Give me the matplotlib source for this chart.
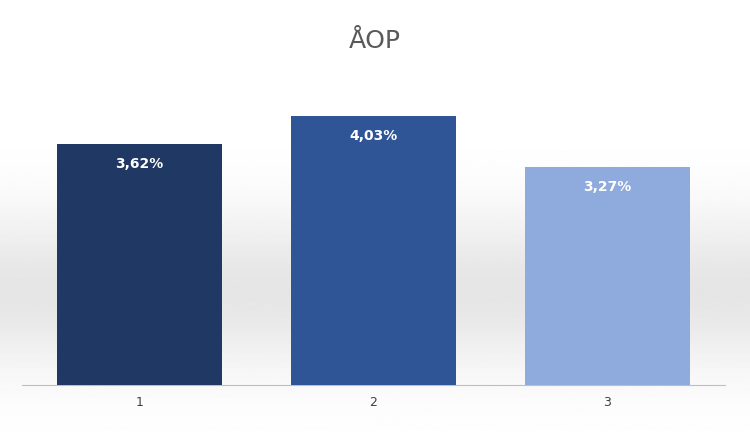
import numpy as np
import matplotlib.pyplot as plt

categories = ["1", "2", "3"]
values = [3.62, 4.03, 3.27]
labels = ["3,62%", "4,03%", "3,27%"]
colors = ["#1F3864", "#2F5597", "#8FAADC"]

fig = plt.figure(figsize=(7.5, 4.34), dpi=100)

# background gradient: white at top, soft grey band lower down
bg = fig.add_axes([0, 0, 1, 1], zorder=-10)
ys = np.linspace(0, 1, 200)
shade = 1 - 0.10 * np.exp(-((ys - 0.33) / 0.18) ** 2)
bg.imshow(shade[:, None], cmap="gray", vmin=0, vmax=1, aspect="auto",
          extent=[0, 1, 0, 1], origin="lower")
bg.set_xlim(0, 1)
bg.set_ylim(0, 1)
bg.axis("off")

ax = fig.add_axes([0.03, 0.113, 0.936, 0.691])
ax.patch.set_alpha(0)
x = np.arange(len(categories))
ax.bar(x, values, width=0.705, color=colors, zorder=3)
for xi, v, lab in zip(x, values, labels):
    ax.text(xi, v - 0.3, lab, ha="center", va="center", color="white",
            fontsize=10, fontweight="bold", zorder=4)

ax.set_xlim(-0.5, 2.5)
ax.set_ylim(0, 4.5)
ax.set_xticks(x)
ax.set_xticklabels(categories, fontsize=9, color="#404040")
ax.tick_params(axis="x", length=0, pad=8)
ax.set_yticks([])
for s in ["top", "right", "left"]:
    ax.spines[s].set_visible(False)
ax.spines["bottom"].set_color("#BFBFBF")

fig.text(0.5, 0.905, "ÅOP", ha="center", va="center", fontsize=18, color="#595959")

fig.savefig("out.png", dpi=100)
